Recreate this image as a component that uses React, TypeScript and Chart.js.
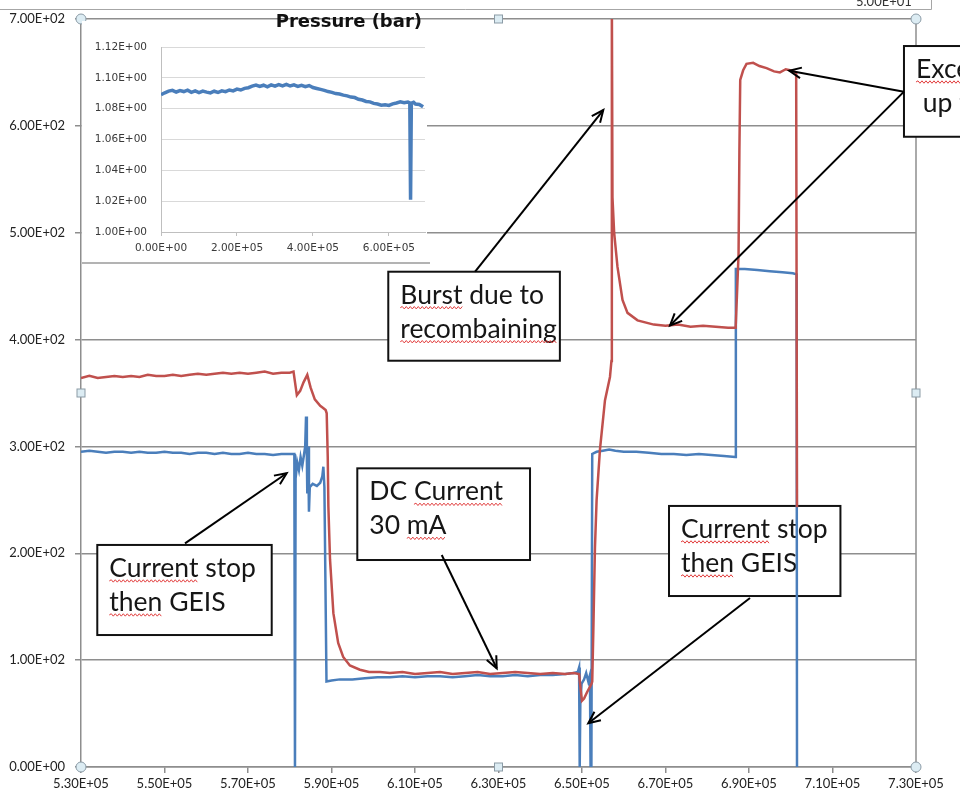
import React, { useEffect, useRef } from 'react';
import { Chart, registerables } from 'chart.js';

Chart.register(...registerables);

// ---------- main chart axes ----------
const X_MIN = 530000;
const X_MAX = 730000;
const X_STEP = 20000;
const Y_MIN = 0;
const Y_MAX = 700;
const Y_STEP = 100;

// ---------- red series ----------
const redTime = [
  530000, 532000, 534000, 536000, 538000, 540000, 542000, 544000, 546000, 548000, 550000, 552000, 554000,
  556000, 558000, 560000, 562000, 564000, 566000, 568000, 570000, 572000, 574000, 576000, 578000, 580000,
  580900, 581700, 582500, 583300, 584200, 585000, 586000, 587300, 588000, 588600,
  588850, 589100, 589250, 589650, 590450, 591600, 592800, 594400, 596800, 599000, 601600,
  604000, 607000, 610000, 613000, 616000, 619000, 622000, 625000, 628000, 631000, 634000, 637000, 640000, 643000, 646000,
  648000, 649300, 649700, 650000, 650500, 651200, 651900, 652300, 652450,
  652700, 653100, 653500, 654300, 655500, 656700, 657050, 657150,
  657300, 657700, 658500, 659700, 660900, 663300, 667200,
  670000, 673000, 676000, 679000, 682000, 685000, 686800,
  686900, 687500, 687700, 687900, 688600, 689400, 691000, 692500, 694200, 696000, 697400, 698800, 699800, 701300, 701500,
];
const redValue = [
  364, 366, 364, 365, 366, 365, 366, 365, 367, 366, 366, 367, 366,
  367, 368, 367, 368, 369, 368, 369, 368, 369, 370, 368, 369, 369,
  370, 348, 352, 360, 367, 355, 344, 338, 336, 334,
  331, 290, 244, 194, 144, 116, 103, 95, 91, 89, 89,
  88, 89, 87, 88, 89, 87, 88, 89, 87, 88, 89, 88, 87, 88, 87,
  88, 87, 72, 62, 64, 70, 75, 78, 80,
  125, 205, 250, 297, 343, 365, 380, 720,
  533, 500, 468, 437, 425, 418, 414,
  413, 414, 412, 413, 412, 411, 411,
  420, 480, 577, 643, 652, 658, 659, 656, 654, 651, 650, 653, 652, 650, 243,
];

// ---------- blue series ----------
const blueTime = [
  530000, 532000, 534000, 536000, 538000, 540000, 542000, 544000, 546000, 548000, 550000, 552000, 554000,
  556000, 558000, 560000, 562000, 564000, 566000, 568000, 570000, 572000, 574000, 576000, 578000, 580000,
  581100, 581250, 581400, 581800, 582200, 582600, 583000, 583400, 583700, 583900, 584100, 584200, 584400, 584600,
  584800, 585500, 586500, 587300, 587800, 588050, 588300, 588800,
  590000, 592000, 595000, 598000, 601000, 604000, 607000, 610000, 613000, 616000, 619000, 622000, 625000, 628000,
  631000, 634000, 637000, 640000, 643000, 646000, 648000, 649000, 649300,
  649450, 649600, 649900, 650500, 651000, 651500, 651900, 652050, 652250, 652450,
  653500, 655000, 656500, 658000, 660000, 663000, 666000, 669000, 672000, 675000, 678000, 681000, 684000, 686700,
  686850, 689000, 692000, 695000, 698000, 700500, 701400, 701500,
];
const blueValue = [
  295, 296, 295, 294, 295, 295, 294, 295, 294, 294, 295, 294, 294,
  293, 294, 294, 293, 294, 293, 293, 294, 293, 293, 292, 293, 293,
  293, 0, 270, 285, 278, 290, 282, 292, 300, 328, 290, 256, 300, 239,
  262, 265, 263, 266, 272, 281, 262, 80,
  81, 82, 82, 83, 84, 84, 85, 84, 85, 85, 84, 85, 86, 85,
  85, 86, 85, 86, 86, 87, 88, 89, 93,
  0, 60, 78, 82, 88, 80, 86, 0, 0, 293,
  295, 296, 297, 296, 295, 295, 294, 293, 293, 292, 293, 292, 291, 290,
  466, 466, 465, 464, 463, 462, 461, 0,
];

// ---------- inset (pressure) ----------
const INSET_TITLE = 'Pressure (bar)';
const P_X_MIN = 0;
const P_X_MAX = 695000;
const P_X_TICKS = [0, 200000, 400000, 600000];
const P_Y_MIN = 1.0;
const P_Y_MAX = 1.12;
const P_Y_STEP = 0.02;
const pressureTime = [
  0, 10000, 20000, 30000, 40000, 50000, 60000, 70000, 80000, 90000,
  100000, 110000, 120000, 130000, 140000, 150000, 160000, 170000, 180000, 190000,
  200000, 210000, 220000, 230000, 240000, 250000, 260000, 270000, 280000, 290000,
  300000, 310000, 320000, 330000, 340000, 350000, 360000, 370000, 380000, 390000,
  400000, 410000, 420000, 430000, 440000, 450000, 460000, 470000, 480000, 490000,
  500000, 510000, 520000, 530000, 540000, 550000, 560000, 570000, 580000, 590000,
  600000, 610000, 620000, 630000, 640000, 650000,
  655000, 657000, 659000, 665000, 670000, 680000, 690000,
];
const pressureValue = [
  1.0890, 1.0903, 1.0914, 1.0919, 1.0908, 1.0917, 1.0911, 1.0920, 1.0906, 1.0915,
  1.0904, 1.0914, 1.0907, 1.0902, 1.0913, 1.0905, 1.0916, 1.0910, 1.0921, 1.0915,
  1.0927, 1.0921, 1.0932, 1.0936, 1.0946, 1.0953, 1.0944, 1.0952, 1.0942, 1.0954,
  1.0946, 1.0956, 1.0948, 1.0958, 1.0947, 1.0954, 1.0945, 1.0952, 1.0943, 1.0950,
  1.0937, 1.0931, 1.0925, 1.0919, 1.0911, 1.0906, 1.0898, 1.0895, 1.0888, 1.0883,
  1.0875, 1.0872, 1.0861, 1.0856, 1.0847, 1.0844, 1.0834, 1.0830, 1.0823, 1.0825,
  1.0821, 1.0831, 1.0837, 1.0844, 1.0838, 1.0843,
  1.0837, 1.0210, 1.0835, 1.0841, 1.0830, 1.0827, 1.0812,
];

// ---------- annotations (data coordinates) ----------
const noteLines = [
  ['Burst due to', 'recombaining'],
  ['DC Current', '30 mA'],
  ['Current stop', 'then GEIS'],
  ['Current stop', 'then GEIS'],
  ['Excess', ' up to'],
];
// [left time, top value, right time, bottom value]
const noteBoxes = [
  [603600, 463.5, 644700, 380.2],
  [596180, 279.5, 637550, 193.7],
  [533900, 207.8, 575680, 123.5],
  [670840, 244.3, 711900, 160.0],
  [727120, 674.7, 752000, 589.8],
];
// [from time, from value, to time, to value]
const noteArrows = [
  [[624400, 463.5, 655100, 614.8]],
  [[616400, 198.4, 629570, 92.4]],
  [[554910, 209.3, 579270, 274.9]],
  [[690240, 158.2, 651510, 40.9]],
  [[727120, 632.0, 699650, 651.6], [727120, 632.0, 671080, 413.2]],
];
const noteWavy: [number, string][][] = [
  [[0, 'Burst'], [1, 'recombaining']],
  [[0, 'Current'], [1, 'mA']],
  [[0, 'Current'], [1, 'then']],
  [[0, 'Current'], [1, 'then']],
  [[0, 'Excess']],
];

const GRID = '#8e8e8e';
const RED = '#C0504D';
const BLUE = '#4A7EBB';
const TICK_COLOR = '#222';
const NOTE_FONT = '26.5px Lato';

function sci(v: number): string {
  const [m, e] = Number(v).toExponential(2).split('e');
  const sign = e[0] === '-' ? '-' : '+';
  const d = e.replace(/[+-]/, '').padStart(2, '0');
  return `${m}E${sign}${d}`;
}

function pts(xs: number[], ys: number[]) {
  return xs.map((x, i) => ({ x, y: ys[i] }));
}

function drawArrow(ctx: CanvasRenderingContext2D, x1: number, y1: number, x2: number, y2: number) {
  ctx.beginPath();
  ctx.moveTo(x1, y1);
  ctx.lineTo(x2, y2);
  ctx.stroke();
  const a = Math.atan2(y2 - y1, x2 - x1);
  const L = 13;
  const w = 0.42;
  ctx.beginPath();
  ctx.moveTo(x2 - L * Math.cos(a - w), y2 - L * Math.sin(a - w));
  ctx.lineTo(x2, y2);
  ctx.lineTo(x2 - L * Math.cos(a + w), y2 - L * Math.sin(a + w));
  ctx.stroke();
}

function drawWavy(ctx: CanvasRenderingContext2D, x0: number, x1: number, y: number) {
  ctx.beginPath();
  ctx.moveTo(x0, y);
  let up = true;
  for (let x = x0 + 2; x <= x1; x += 2) {
    ctx.lineTo(x, y + (up ? -1.2 : 1.2));
    up = !up;
  }
  ctx.stroke();
}

const notesPlugin = {
  id: 'notes',
  beforeDatasetsDraw(chart: any) {
    const { ctx, chartArea } = chart;
    const xs = chart.scales.x;
    const ys = chart.scales.y;
    ctx.save();
    ctx.strokeStyle = GRID;
    ctx.lineWidth = 1.5;
    ctx.beginPath();
    ctx.moveTo(chartArea.right, chartArea.top);
    ctx.lineTo(chartArea.right, chartArea.bottom);
    ctx.stroke();

    ctx.font = NOTE_FONT;
    noteBoxes.forEach((b, i) => {
      const l = xs.getPixelForValue(b[0]);
      const t = ys.getPixelForValue(b[1]);
      const r = xs.getPixelForValue(b[2]);
      const bt = ys.getPixelForValue(b[3]);
      ctx.fillStyle = '#ffffff';
      ctx.fillRect(l, t, r - l, bt - t);
      ctx.strokeStyle = '#111';
      ctx.lineWidth = 2;
      ctx.strokeRect(l, t, r - l, bt - t);
      ctx.fillStyle = '#161616';
      ctx.textAlign = 'left';
      ctx.textBaseline = 'alphabetic';
      noteLines[i].forEach((line, k) => {
        ctx.fillText(line, l + 12, t + 32 + k * 34);
      });
      ctx.strokeStyle = '#e23d3d';
      ctx.lineWidth = 1;
      noteWavy[i].forEach(([k, word]) => {
        const line = noteLines[i][k];
        const idx = line.indexOf(word);
        const x0 = l + 12 + ctx.measureText(line.slice(0, idx)).width;
        const x1 = x0 + ctx.measureText(word).width;
        drawWavy(ctx, x0, x1, t + 32 + k * 34 + 4);
      });
    });
    ctx.restore();
  },
  afterDatasetsDraw(chart: any) {
    const { ctx } = chart;
    const xs = chart.scales.x;
    const ys = chart.scales.y;
    ctx.save();
    ctx.strokeStyle = '#000';
    ctx.lineWidth = 2;
    noteArrows.forEach((list) => {
      list.forEach((a) => {
        drawArrow(
          ctx,
          xs.getPixelForValue(a[0]),
          ys.getPixelForValue(a[1]),
          xs.getPixelForValue(a[2]),
          ys.getPixelForValue(a[3])
        );
      });
    });
    ctx.restore();
  },
  afterDraw(chart: any) {
    const { ctx, chartArea } = chart;
    const { left, right, top, bottom } = chartArea;
    ctx.save();
    // outer chart frame remnants at the very top
    ctx.strokeStyle = '#a6a6a6';
    ctx.lineWidth = 1;
    ctx.beginPath();
    ctx.moveTo(0, 9.5);
    ctx.lineTo(931.5, 9.5);
    ctx.lineTo(931.5, 0);
    ctx.stroke();
    ctx.fillStyle = '#333';
    ctx.font = '13px Lato';
    ctx.textAlign = 'left';
    ctx.textBaseline = 'alphabetic';
    ctx.fillText('5.00E+01', 856, 6);

    // selection handles
    const midX = (left + right) / 2;
    const midY = (top + bottom) / 2;
    ctx.fillStyle = '#dcecf3';
    ctx.strokeStyle = '#8b9ba6';
    ctx.lineWidth = 1;
    [[left, top], [right, top], [left, bottom], [right, bottom]].forEach(([cx, cy]) => {
      ctx.beginPath();
      ctx.arc(cx, cy, 5, 0, Math.PI * 2);
      ctx.fill();
      ctx.stroke();
    });
    [[midX, top], [midX, bottom], [left, midY], [right, midY]].forEach(([cx, cy]) => {
      ctx.fillRect(cx - 4, cy - 4, 8, 8);
      ctx.strokeRect(cx - 4, cy - 4, 8, 8);
    });
    ctx.restore();
  },
};

const insetPlugin = {
  id: 'insetDecor',
  beforeDraw(chart: any) {
    const { ctx, width } = chart;
    ctx.save();
    ctx.fillStyle = '#ffffff';
    ctx.fillRect(0, 11, width - 3, 242);
    ctx.strokeStyle = '#9a9a9a';
    ctx.lineWidth = 1.5;
    ctx.beginPath();
    ctx.moveTo(0, 253);
    ctx.lineTo(width, 253);
    ctx.stroke();
    ctx.restore();
  },
  afterDraw(chart: any) {
    const { ctx } = chart;
    ctx.save();
    ctx.fillStyle = '#111';
    ctx.font = 'bold 18px "DejaVu Sans"';
    ctx.textAlign = 'right';
    ctx.textBaseline = 'middle';
    ctx.fillText(INSET_TITLE, 340, 12);
    ctx.restore();
  },
};

export default function App() {
  const mainRef = useRef<HTMLCanvasElement>(null);
  const insetRef = useRef<HTMLCanvasElement>(null);

  useEffect(() => {
    const tickFont = { family: 'Lato', size: 13 };
    const main = new Chart(mainRef.current as HTMLCanvasElement, {
      type: 'line',
      data: {
        datasets: [
          {
            data: pts(redTime, redValue),
            borderColor: RED,
            borderWidth: 2.5,
            pointRadius: 0,
            tension: 0,
          },
          {
            data: pts(blueTime, blueValue),
            borderColor: BLUE,
            borderWidth: 2.5,
            pointRadius: 0,
            tension: 0,
          },
        ],
      },
      options: {
        responsive: false,
        animation: false,
        events: [],
        layout: { padding: { top: 19, right: 44, left: 0, bottom: 0 } },
        plugins: { legend: { display: false }, tooltip: { enabled: false }, title: { display: false } },
        scales: {
          x: {
            type: 'linear',
            min: X_MIN,
            max: X_MAX,
            ticks: {
              stepSize: X_STEP,
              callback: (v: any) => sci(v),
              font: tickFont,
              color: TICK_COLOR,
              padding: 3,
              maxRotation: 0,
              autoSkip: false,
              includeBounds: false,
            },
            grid: { display: true, drawOnChartArea: false, drawTicks: true, tickLength: 6, color: GRID, lineWidth: 1.5 },
            border: { display: true, color: GRID, width: 1.5 },
            afterFit: (s: any) => {
              s.height = 32;
            },
          },
          y: {
            type: 'linear',
            min: Y_MIN,
            max: Y_MAX,
            ticks: {
              stepSize: Y_STEP,
              callback: (v: any) => sci(v),
              font: tickFont,
              color: TICK_COLOR,
              padding: 10,
              includeBounds: false,
            },
            grid: { color: GRID, lineWidth: 1.5, tickLength: 6 },
            border: { display: true, color: GRID, width: 1.5 },
            afterFit: (s: any) => {
              s.width = 81;
            },
          },
        },
      } as any,
      plugins: [notesPlugin],
    });

    const insetFont = { family: 'DejaVu Sans', size: 10.5 };
    const inset = new Chart(insetRef.current as HTMLCanvasElement, {
      type: 'line',
      data: {
        datasets: [
          {
            data: pts(pressureTime, pressureValue),
            borderColor: BLUE,
            borderWidth: 3.5,
            pointRadius: 0,
            tension: 0,
          },
        ],
      },
      options: {
        responsive: false,
        animation: false,
        events: [],
        layout: { padding: { top: 37, right: 5, left: 0, bottom: 0 } },
        plugins: { legend: { display: false }, tooltip: { enabled: false }, title: { display: false } },
        scales: {
          x: {
            type: 'linear',
            min: P_X_MIN,
            max: P_X_MAX,
            afterBuildTicks: (s: any) => {
              s.ticks = P_X_TICKS.map((value) => ({ value }));
            },
            ticks: {
              callback: (v: any) => sci(v),
              font: insetFont,
              color: '#3a3a3a',
              padding: 6,
              maxRotation: 0,
              autoSkip: false,
            },
            grid: { display: true, drawOnChartArea: false, drawTicks: true, tickLength: 4, color: '#bfbfbf' },
            border: { display: true, color: '#bfbfbf', width: 1 },
            afterFit: (s: any) => {
              s.height = 32;
            },
          },
          y: {
            type: 'linear',
            min: P_Y_MIN,
            max: P_Y_MAX,
            ticks: {
              stepSize: P_Y_STEP,
              callback: (v: any) => sci(v),
              font: insetFont,
              color: '#3a3a3a',
              padding: 14,
              includeBounds: false,
            },
            grid: { color: '#d9d9d9', lineWidth: 1, drawTicks: false },
            border: { display: true, color: '#bfbfbf', width: 1 },
            afterFit: (s: any) => {
              s.width = 79;
            },
          },
        },
      } as any,
      plugins: [insetPlugin],
    });

    return () => {
      main.destroy();
      inset.destroy();
    };
  }, []);

  return (
    <div
      style={{
        position: 'absolute',
        left: 0,
        top: 0,
        width: 960,
        height: 799,
        background: '#ffffff',
        overflow: 'hidden',
      }}
    >
      <canvas ref={mainRef} width={960} height={799} style={{ position: 'absolute', left: 0, top: 0 }} />
      <canvas ref={insetRef} width={348} height={254} style={{ position: 'absolute', left: 82, top: 10 }} />
    </div>
  );
}
